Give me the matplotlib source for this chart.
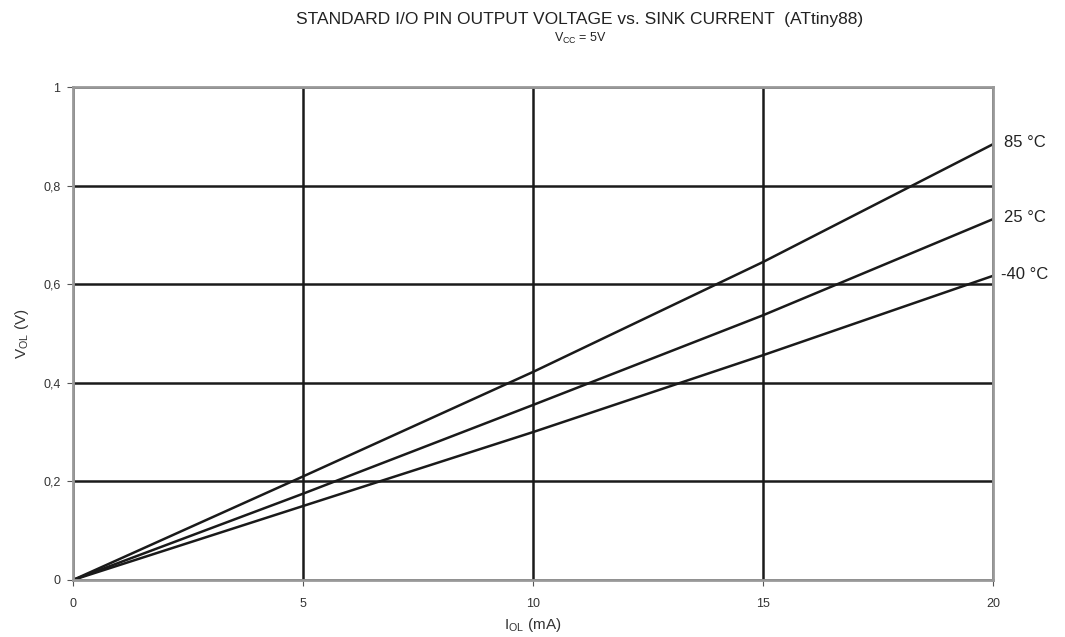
import matplotlib.pyplot as plt

plt.rcParams['font.family'] = ['Liberation Sans', 'DejaVu Sans']

# I_OL (mA)
current = [0, 5, 10, 15, 20]
# V_OL (V) per temperature
v_85 = [0, 0.210, 0.422, 0.645, 0.884]
v_25 = [0, 0.175, 0.355, 0.537, 0.732]
v_m40 = [0, 0.150, 0.300, 0.456, 0.617]
labels = ['85 °C', '25 °C', '-40 °C']

fig = plt.figure(figsize=(10.65, 6.37), dpi=100)
ax = fig.add_axes([0.0685, 0.0895, 0.8639, 0.7739])

for v in [v_85, v_25, v_m40]:
    ax.plot(current, v, color='#1a1a1a', linewidth=1.8, zorder=3)

for v, lab in zip([v_85, v_25, v_m40], labels):
    ax.annotate(lab, xy=(current[-1], v[-1]), xytext=(23, 1),
                textcoords='offset points', fontsize=12, color='#222222',
                va='center', ha='center', annotation_clip=False)

ax.set_xlim(0, 20)
ax.set_ylim(0, 1)
ax.set_xticks([0, 5, 10, 15, 20])
ax.set_yticks([0, 0.2, 0.4, 0.6, 0.8, 1])
ax.set_yticklabels(['0', '0,2', '0,4', '0,6', '0,8', '1'])
ax.grid(True, color='#1a1a1a', linewidth=1.8)
ax.tick_params(labelsize=9, color='#555555', length=4, labelcolor='#333333')
ax.tick_params(axis='x', pad=9)
ax.tick_params(axis='y', pad=5)
for s in ax.spines.values():
    s.set_color('#999999')
    s.set_linewidth(2)
    s.set_zorder(4)

ax.set_xlabel('I$_{\\mathregular{OL}}$ (mA)', fontsize=11, color='#333333', labelpad=4)
ax.set_ylabel('V$_{\\mathregular{OL}}$ (V)', fontsize=11, color='#333333', labelpad=9)

fig.text(0.544, 0.962, 'STANDARD I/O PIN OUTPUT VOLTAGE vs. SINK CURRENT  (ATtiny88)',
         ha='center', va='baseline', fontsize=12.5, color='#222222')
fig.text(0.5446, 0.934, 'V$_{\\mathregular{CC}}$ = 5V', ha='center', va='baseline',
         fontsize=9, color='#222222')

plt.savefig('out.png', dpi=100)
